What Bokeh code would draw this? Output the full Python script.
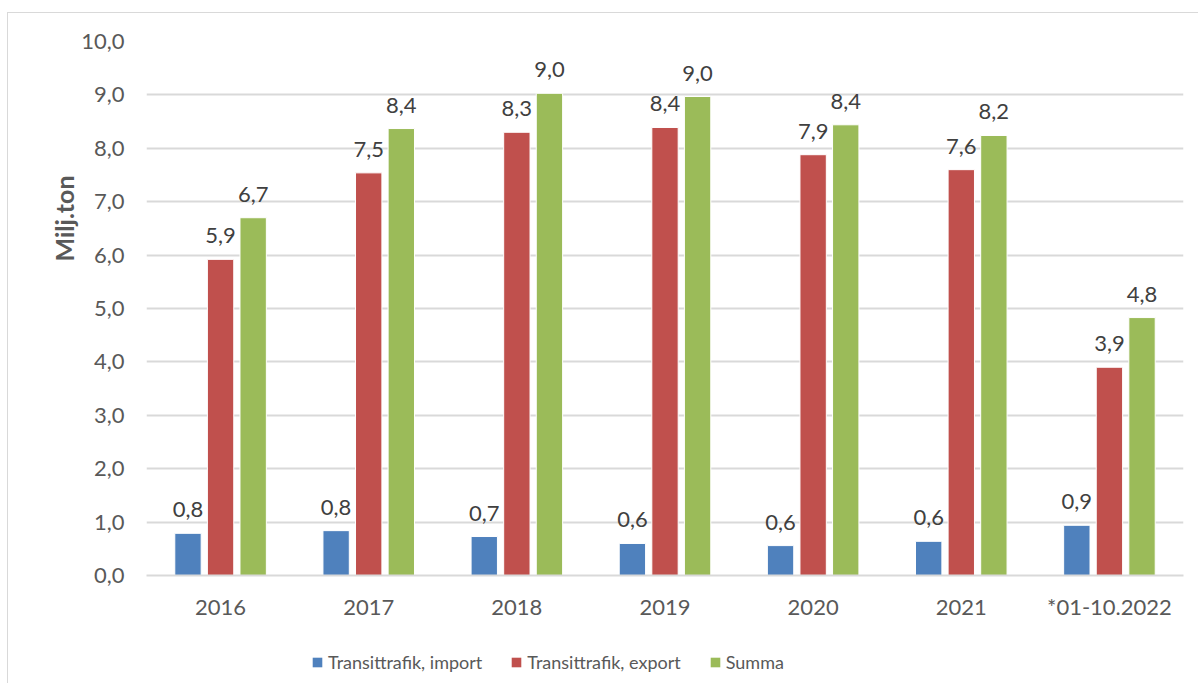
from bokeh.plotting import figure
from bokeh.layouts import column
from bokeh.models import ColumnDataSource, FactorRange, Range1d, FixedTicker, Legend, LegendItem, LabelSet, Title
from bokeh.transform import dodge
from bokeh.core.properties import value
from bokeh.embed import file_html
from bokeh.resources import INLINE

categories = ["2016", "2017", "2018", "2019", "2020", "2021", "*01-10.2022"]
import_vals = [0.79, 0.84, 0.73, 0.60, 0.56, 0.64, 0.94]
export_vals = [5.92, 7.54, 8.30, 8.39, 7.88, 7.60, 3.90]
summa_vals = [6.70, 8.37, 9.03, 8.97, 8.44, 8.24, 4.83]
series_names = ["Transittrafik, import", "Transittrafik, export", "Summa"]
y_ticks = [0, 1, 2, 3, 4, 5, 6, 7, 8, 9, 10]
y_tick_labels = ["0,0", "1,0", "2,0", "3,0", "4,0", "5,0", "6,0", "7,0", "8,0", "9,0", "10,0"]
y_title = "Milj.ton"

FONT = "Lato"
FS = "22px"
colors = ["#4F81BD", "#C0504D", "#9BBB59"]

def fmt(v):
    return f"{v:.1f}".replace(".", ",")

src = ColumnDataSource(dict(
    cat=categories,
    imp=import_vals, exp=export_vals, summa=summa_vals,
    imp_t=[fmt(v) for v in import_vals],
    exp_t=[fmt(v) for v in export_vals],
    summa_t=[fmt(v) for v in summa_vals],
))

xr = FactorRange(*categories)
p = figure(x_range=xr, y_range=Range1d(0, 10),
           width=1190, height=630, output_backend="svg", toolbar_location=None,
           min_border_left=138, min_border_right=15, min_border_top=28, min_border_bottom=68)
p.outline_line_color = None
p.background_fill_color = "white"
p.border_fill_color = "white"

offs = [-0.22, 0.0, 0.22]
cols = ["imp", "exp", "summa"]
for off, c, col in zip(offs, cols, colors):
    p.vbar(x=dodge("cat", off, range=xr), top=c, width=0.178, source=src,
           fill_color=col, line_color="white", line_width=1)
    lab = LabelSet(x=dodge("cat", off, range=xr), y=c, text=c + "_t", source=src,
                   text_align="center", text_baseline="bottom", y_offset=16,
                   text_font=value(FONT), text_font_size=FS, text_color="#404040")
    p.add_layout(lab)

# axes
p.yaxis.ticker = FixedTicker(ticks=y_ticks)
p.yaxis.major_label_overrides = {t: l for t, l in zip(y_ticks, y_tick_labels)}
p.yaxis.axis_line_color = None
p.yaxis.major_tick_line_color = None
p.yaxis.minor_tick_line_color = None
p.yaxis.major_label_standoff = 16
p.yaxis.major_label_text_font = FONT
p.yaxis.major_label_text_font_size = FS
p.yaxis.major_label_text_color = "#595959"

p.xaxis.axis_line_color = "#D9D9D9"
p.xaxis.axis_line_width = 2
p.xaxis.major_tick_line_color = None
p.xaxis.minor_tick_line_color = None
p.xaxis.major_label_standoff = 11
p.xaxis.major_label_text_font = FONT
p.xaxis.major_label_text_font_size = FS
p.xaxis.major_label_text_color = "#595959"

p.xgrid.grid_line_color = None
p.ygrid.grid_line_color = "#D9D9D9"
p.ygrid.grid_line_width = 2

ttl = Title(text=y_title, align="right", offset=134, standoff=0, text_font=FONT,
            text_font_size="25px", text_font_style="bold", text_color="#595959")
p.add_layout(ttl, "left")

# legend strip (bars drawn here lie below its visible range; only their legend swatches show)
lg = figure(width=1190, height=40, output_backend="svg", toolbar_location=None,
            min_border=0, x_range=xr, y_range=Range1d(100, 101))
lg.axis.visible = False
lg.grid.visible = False
lg.outline_line_color = None
lg.border_fill_color = "white"
leg_rs = [lg.vbar(x="cat", top=c, width=0.1, source=src, fill_color=col, line_color=None)
          for c, col in zip(cols, colors)]
legend = Legend(items=[LegendItem(label=n, renderers=[r]) for n, r in zip(series_names, leg_rs)],
                orientation="horizontal", location=(165, 10), glyph_width=12, glyph_height=12,
                label_standoff=5, spacing=28, padding=0, margin=0, border_line_color=None,
                background_fill_alpha=0, label_text_font=FONT, label_text_font_size="18px",
                label_text_color="#595959", label_height=14)
lg.add_layout(legend, "center")

layout = column(p, lg, spacing=0)
layout.margin = (12, 0, 0, 7)
layout.styles = {"border-left": "1px solid #D9D9D9", "border-top": "1px solid #D9D9D9",
                 "background-color": "white"}

open("out.html", "w").write(file_html(layout, INLINE))
